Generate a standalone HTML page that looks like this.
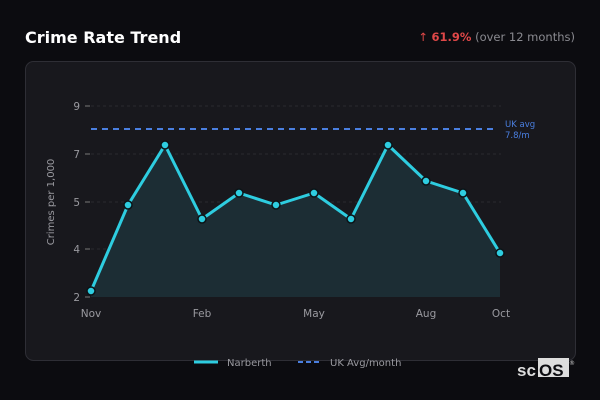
<!DOCTYPE html>
<html><head><meta charset="utf-8"><style>
body{margin:0;width:600px;height:400px;background:#0c0c10;font-family:"DejaVu Sans","Liberation Sans",sans-serif;overflow:hidden;position:relative}
</style></head><body>
<svg width="600" height="400" style="position:absolute;left:0;top:0">
<text x="25" y="43" fill="#fff" font-size="16" font-weight="bold">Crime Rate Trend</text>
<text x="575" y="41" text-anchor="end" font-size="11.5"><tspan fill="#e04848">↑ </tspan><tspan fill="#e04848" font-weight="bold">61.9%</tspan><tspan fill="#8a8a90"> (over 12 months)</tspan></text>
<rect x="25.5" y="61.5" width="550" height="299" rx="8" fill="#18181d" stroke="#2e2e35"/>
<g stroke="#2a2a30" stroke-dasharray="3,3">
<line x1="91" x2="501" y1="106" y2="106"/><line x1="91" x2="501" y1="154" y2="154"/><line x1="91" x2="501" y1="202" y2="202"/><line x1="91" x2="501" y1="249" y2="249"/></g>
<g fill="#9a9aa0" font-size="10.5" text-anchor="end">
<text x="80" y="110">9</text><text x="80" y="158">7</text><text x="80" y="206">5</text><text x="80" y="253">4</text><text x="80" y="301">2</text></g>
<g stroke="#777"><line x1="85" x2="90" y1="106" y2="106"/><line x1="85" x2="90" y1="154" y2="154"/><line x1="85" x2="90" y1="202" y2="202"/><line x1="85" x2="90" y1="249" y2="249"/><line x1="85" x2="90" y1="297" y2="297"/></g>
<text transform="translate(54,202) rotate(-90)" fill="#9a9aa0" font-size="10" text-anchor="middle">Crimes per 1,000</text>
<g fill="#9a9aa0" font-size="10.5" text-anchor="middle"><text x="91" y="317">Nov</text><text x="202" y="317">Feb</text><text x="314" y="317">May</text><text x="426" y="317">Aug</text><text x="501" y="317">Oct</text></g>
<polygon points="91,297 91,291 128,205 165,145 202,219 239,193 276,205 314,193 351,219 388,145 426,181 463,193 500,253 500,297" fill="#1c2d34"/>
<line x1="91" x2="496" y1="129" y2="129" stroke="#4a7fe0" stroke-width="2" stroke-dasharray="6,5"/>
<text x="505" y="127" fill="#4a7fe0" font-size="8.5">UK avg</text><text x="505" y="138" fill="#4a7fe0" font-size="8.5">7.8/m</text>
<polyline points="91,291 128,205 165,145 202,219 239,193 276,205 314,193 351,219 388,145 426,181 463,193 500,253" fill="none" stroke="#2ecde0" stroke-width="3" stroke-linejoin="round"/>
<g fill="#2ecde0" stroke="#0c1418" stroke-width="1.5">
<circle cx="91" cy="291" r="4"/><circle cx="128" cy="205" r="4"/><circle cx="165" cy="145" r="4"/><circle cx="202" cy="219" r="4"/><circle cx="239" cy="193" r="4"/><circle cx="276" cy="205" r="4"/><circle cx="314" cy="193" r="4"/><circle cx="351" cy="219" r="4"/><circle cx="388" cy="145" r="4"/><circle cx="426" cy="181" r="4"/><circle cx="463" cy="193" r="4"/><circle cx="500" cy="253" r="4"/></g>
<line x1="194" x2="218" y1="362" y2="362" stroke="#2ecde0" stroke-width="3"/>
<text x="227" y="366" fill="#9a9aa0" font-size="10">Narberth</text>
<line x1="298" x2="322" y1="362" y2="362" stroke="#4a7fe0" stroke-width="2" stroke-dasharray="5,3"/>
<text x="330" y="366" fill="#9a9aa0" font-size="10">UK Avg/month</text>
<rect x="538" y="358" width="31" height="19" fill="#ddd"/>
<text x="517" y="376" fill="#ddd" font-size="17" font-weight="bold" font-family="Liberation Sans">sc</text>
<text x="539" y="376" fill="#0c0c10" font-size="17" font-weight="bold" font-family="Liberation Sans">OS</text>
<text x="569" y="365" fill="#ccc" font-size="6">®</text>
</svg>
</body></html>
